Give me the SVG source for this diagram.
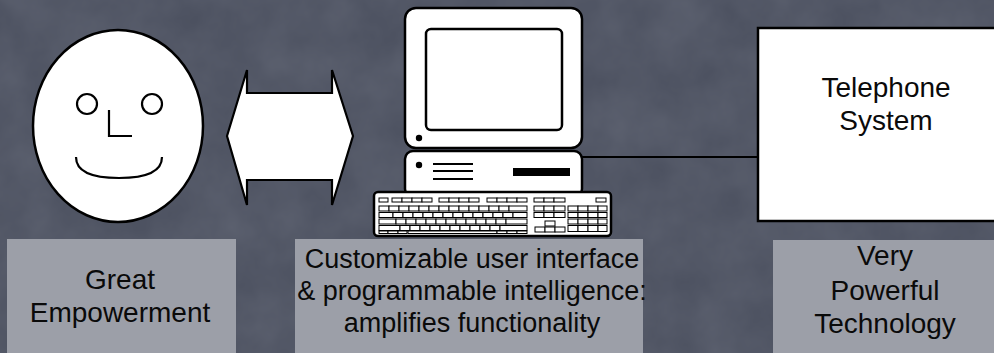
<svg xmlns="http://www.w3.org/2000/svg" width="994" height="353" viewBox="0 0 994 353">
  <style>
    .ink { fill: #ffffff; stroke: #000000; stroke-width: 2.5; }
    .line { fill: none; stroke: #000000; stroke-width: 2.2; }
    .label { fill: #9c9fa8; }
    .txt { font-family: "Liberation Sans", Arial, sans-serif; font-size: 28px; fill: #0a0a0a; text-anchor: middle; }
    .txt-s { font-size: 27px; }
    .key { fill: #ffffff; stroke: #000000; stroke-width: 1; }
  </style>
  <defs>
    <filter id="grain" x="0" y="0" width="100%" height="100%">
      <feTurbulence type="fractalNoise" baseFrequency="0.02" numOctaves="4" seed="7" result="n"/>
      <feColorMatrix in="n" type="matrix" values="0 0 0 0 0.33  0 0 0 0 0.35  0 0 0 0 0.41  0 0 0 0.22 0"/>
    </filter>
  </defs>

  <!-- slate background -->
  <rect width="994" height="353" fill="#4a4f5e"/>
  <rect width="994" height="353" filter="url(#grain)"/>

  <!-- user: smiling face -->
  <g id="face">
    <ellipse class="ink" cx="118" cy="126" rx="85" ry="96"/>
    <circle class="line" cx="87" cy="104" r="10"/>
    <circle class="line" cx="152" cy="104" r="10"/>
    <path class="line" d="M109 110 V136 H132"/>
    <path class="line" d="M76 157 Q76 178 119 178 Q162 178 162 157"/>
  </g>

  <!-- computer with keyboard -->
  <g id="computer">
    <rect class="ink" x="405" y="8" width="177" height="140" rx="11"/>
    <rect class="ink" x="426" y="29" width="136" height="101" rx="5"/>
    <circle cx="419" cy="138" r="3.2" fill="#000"/>
    <rect class="ink" x="405" y="151" width="177" height="46" rx="8"/>
    <circle cx="419" cy="165" r="3.2" fill="#000"/>
    <path class="line" d="M433 164 H473 M433 171 H473 M433 179 H473"/>
    <rect x="513" y="168" width="57" height="8" fill="#000"/>
    <g id="keyboard">
      <rect class="ink" x="374" y="192" width="237" height="44" rx="4"/>
      <!-- function row -->
      <rect class="key" x="379" y="198" width="9" height="4"/>
      <rect class="key" x="392" y="198" width="10" height="4"/>
      <rect class="key" x="402" y="198" width="10" height="4"/>
      <rect class="key" x="412" y="198" width="10" height="4"/>
      <rect class="key" x="422" y="198" width="10" height="4"/>
      <rect class="key" x="439" y="198" width="10" height="4"/>
      <rect class="key" x="449" y="198" width="10" height="4"/>
      <rect class="key" x="459" y="198" width="10" height="4"/>
      <rect class="key" x="469" y="198" width="10" height="4"/>
      <rect class="key" x="487" y="198" width="10" height="4"/>
      <rect class="key" x="497" y="198" width="10" height="4"/>
      <rect class="key" x="507" y="198" width="10" height="4"/>
      <rect class="key" x="517" y="198" width="10" height="4"/>
      <rect class="key" x="534" y="198" width="10" height="4"/>
      <rect class="key" x="544" y="198" width="10" height="4"/>
      <rect class="key" x="554" y="198" width="11" height="4"/>
      <rect class="key" x="596" y="198" width="10" height="4"/>
      <!-- main block -->
      <g>
        <rect class="key" x="379" y="206" width="10" height="5"/>
        <rect class="key" x="389" y="206" width="10" height="5"/>
        <rect class="key" x="399" y="206" width="10" height="5"/>
        <rect class="key" x="409" y="206" width="10" height="5"/>
        <rect class="key" x="419" y="206" width="10" height="5"/>
        <rect class="key" x="429" y="206" width="10" height="5"/>
        <rect class="key" x="439" y="206" width="10" height="5"/>
        <rect class="key" x="449" y="206" width="10" height="5"/>
        <rect class="key" x="459" y="206" width="10" height="5"/>
        <rect class="key" x="469" y="206" width="10" height="5"/>
        <rect class="key" x="479" y="206" width="10" height="5"/>
        <rect class="key" x="489" y="206" width="10" height="5"/>
        <rect class="key" x="499" y="206" width="10" height="5"/>
        <rect class="key" x="509" y="206" width="18" height="5"/>

        <rect class="key" x="379" y="212.5" width="14" height="5"/>
        <rect class="key" x="393" y="212.5" width="10" height="5"/>
        <rect class="key" x="403" y="212.5" width="10" height="5"/>
        <rect class="key" x="413" y="212.5" width="10" height="5"/>
        <rect class="key" x="423" y="212.5" width="10" height="5"/>
        <rect class="key" x="433" y="212.5" width="10" height="5"/>
        <rect class="key" x="443" y="212.5" width="10" height="5"/>
        <rect class="key" x="453" y="212.5" width="10" height="5"/>
        <rect class="key" x="463" y="212.5" width="10" height="5"/>
        <rect class="key" x="473" y="212.5" width="10" height="5"/>
        <rect class="key" x="483" y="212.5" width="10" height="5"/>
        <rect class="key" x="493" y="212.5" width="10" height="5"/>
        <rect class="key" x="503" y="212.5" width="10" height="5"/>
        <rect class="key" x="513" y="212.5" width="14" height="5"/>

        <rect class="key" x="379" y="219" width="17" height="5"/>
        <rect class="key" x="396" y="219" width="10" height="5"/>
        <rect class="key" x="406" y="219" width="10" height="5"/>
        <rect class="key" x="416" y="219" width="10" height="5"/>
        <rect class="key" x="426" y="219" width="10" height="5"/>
        <rect class="key" x="436" y="219" width="10" height="5"/>
        <rect class="key" x="446" y="219" width="10" height="5"/>
        <rect class="key" x="456" y="219" width="10" height="5"/>
        <rect class="key" x="466" y="219" width="10" height="5"/>
        <rect class="key" x="476" y="219" width="10" height="5"/>
        <rect class="key" x="486" y="219" width="10" height="5"/>
        <rect class="key" x="496" y="219" width="10" height="5"/>
        <rect class="key" x="506" y="219" width="21" height="5"/>

        <rect class="key" x="379" y="225.5" width="21" height="5"/>
        <rect class="key" x="400" y="225.5" width="10" height="5"/>
        <rect class="key" x="410" y="225.5" width="10" height="5"/>
        <rect class="key" x="420" y="225.5" width="10" height="5"/>
        <rect class="key" x="430" y="225.5" width="10" height="5"/>
        <rect class="key" x="440" y="225.5" width="10" height="5"/>
        <rect class="key" x="450" y="225.5" width="10" height="5"/>
        <rect class="key" x="460" y="225.5" width="10" height="5"/>
        <rect class="key" x="470" y="225.5" width="10" height="5"/>
        <rect class="key" x="480" y="225.5" width="10" height="5"/>
        <rect class="key" x="490" y="225.5" width="10" height="5"/>
        <rect class="key" x="500" y="225.5" width="27" height="5"/>
      </g>
      <!-- bottom row with space bar -->
      <rect class="key" x="379" y="231" width="9" height="2.5"/>
      <rect class="key" x="388" y="231" width="10" height="2.5"/>
      <rect class="key" x="398" y="231" width="9" height="2.5"/>
      <rect class="key" x="408" y="231" width="89" height="2.5"/>
      <rect class="key" x="497" y="231" width="10" height="2.5"/>
      <rect class="key" x="507" y="231" width="10" height="2.5"/>
      <rect class="key" x="517" y="231" width="10" height="2.5"/>
      <!-- navigation cluster -->
      <rect class="key" x="534" y="206" width="10" height="5"/>
      <rect class="key" x="544" y="206" width="10" height="5"/>
      <rect class="key" x="554" y="206" width="11" height="5"/>
      <rect class="key" x="534" y="212.5" width="10" height="5"/>
      <rect class="key" x="544" y="212.5" width="10" height="5"/>
      <rect class="key" x="554" y="212.5" width="11" height="5"/>
      <rect class="key" x="545" y="221" width="10" height="5"/>
      <rect class="key" x="535" y="227" width="10" height="5"/>
      <rect class="key" x="545" y="227" width="10" height="5"/>
      <rect class="key" x="555" y="227" width="10" height="5"/>
      <!-- numeric pad -->
      <rect class="key" x="568" y="206" width="10" height="5"/>
      <rect class="key" x="578" y="206" width="10" height="5"/>
      <rect class="key" x="588" y="206" width="10" height="5"/>
      <rect class="key" x="598" y="206" width="9" height="5"/>
      <rect class="key" x="568" y="212.5" width="10" height="5"/>
      <rect class="key" x="578" y="212.5" width="10" height="5"/>
      <rect class="key" x="588" y="212.5" width="10" height="5"/>
      <rect class="key" x="598" y="212.5" width="9" height="5"/>
      <rect class="key" x="568" y="219" width="10" height="5"/>
      <rect class="key" x="578" y="219" width="10" height="5"/>
      <rect class="key" x="588" y="219" width="10" height="5"/>
      <rect class="key" x="598" y="219" width="9" height="5"/>
      <rect class="key" x="568" y="225.5" width="10" height="6"/>
      <rect class="key" x="578" y="225.5" width="10" height="6"/>
      <rect class="key" x="588" y="225.5" width="10" height="6"/>
      <rect class="key" x="598" y="225.5" width="9" height="6"/>
    </g>
  </g>

  <!-- telephone system -->
  <g id="telephone">
    <rect x="758" y="28" width="245" height="193" fill="#ffffff" stroke="#000000" stroke-width="2.5"/>
    <text class="txt" x="886" y="97">Telephone</text>
    <text class="txt" x="886" y="130">System</text>
  </g>

  <!-- connectors -->
  <g id="connectors">
    <path d="M227 136 L247 70 V93 H332 V70 L353 136 L332 205 V180 H247 V205 Z" fill="#ffffff" stroke="#000000" stroke-width="2.2" stroke-linejoin="miter"/>
    <line x1="582" y1="157" x2="758" y2="157" stroke="#000000" stroke-width="2"/>
  </g>

  <!-- captions -->
  <g id="caption-user">
    <rect class="label" x="7" y="239" width="229" height="114"/>
    <text class="txt" x="120" y="289">Great</text>
    <text class="txt" x="120" y="322">Empowerment</text>
  </g>
  <g id="caption-computer">
    <rect class="label" x="295" y="239" width="348" height="114"/>
    <text class="txt txt-s" x="472" y="268">Customizable user interface</text>
    <text class="txt txt-s" x="472" y="300">&amp; programmable intelligence:</text>
    <text class="txt txt-s" x="472" y="332">amplifies functionality</text>
  </g>
  <g id="caption-telephone">
    <rect class="label" x="773" y="240" width="221" height="113"/>
    <text class="txt" x="885" y="265">Very</text>
    <text class="txt" x="885" y="300">Powerful</text>
    <text class="txt" x="885" y="333">Technology</text>
  </g>
</svg>
